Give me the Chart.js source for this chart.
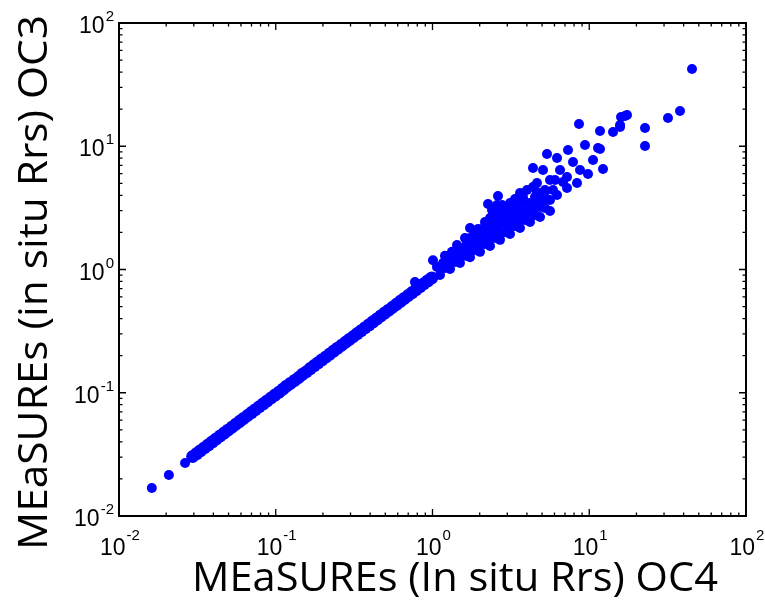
<!DOCTYPE html>
<html>
<head>
<meta charset="utf-8">
<script src="https://cdn.jsdelivr.net/npm/chart.js@4.4.1/dist/chart.umd.min.js"></script>
<style>
  html, body { margin: 0; padding: 0; background: #fff; }
</style>
</head>
<body>
<canvas id="myChart" width="765" height="602"></canvas>
<script>
// OC4 (x) vs OC3 (y), the tight band below 1
const bandX = [0.0295, 0.0313, 0.0331, 0.0351, 0.0372, 0.0394, 0.0417, 0.0442, 0.0468, 0.0495,
  0.0525, 0.0556, 0.0589, 0.0624, 0.0661, 0.0700, 0.0741, 0.0785, 0.0832, 0.0881,
  0.0933, 0.0989, 0.105, 0.111, 0.117, 0.124, 0.132, 0.140, 0.148, 0.157,
  0.166, 0.176, 0.186, 0.197, 0.209, 0.221, 0.234, 0.248, 0.263, 0.279,
  0.295, 0.313, 0.331, 0.351, 0.372, 0.394, 0.417, 0.442, 0.468, 0.495,
  0.525, 0.556, 0.589, 0.624, 0.661, 0.700, 0.741, 0.785, 0.832, 0.881,
  0.933, 0.989]
const bandY = [0.0304, 0.0321, 0.0339, 0.0358, 0.0378, 0.0400, 0.0422, 0.0446, 0.0471, 0.0497,
  0.0525, 0.0555, 0.0586, 0.0619, 0.0654, 0.0690, 0.0729, 0.0770, 0.0813, 0.0859,
  0.0907, 0.0958, 0.101, 0.107, 0.113, 0.119, 0.126, 0.133, 0.141, 0.148,
  0.157, 0.166, 0.175, 0.185, 0.195, 0.206, 0.218, 0.230, 0.243, 0.257,
  0.271, 0.286, 0.302, 0.319, 0.337, 0.356, 0.376, 0.397, 0.420, 0.443,
  0.468, 0.494, 0.522, 0.552, 0.583, 0.615, 0.650, 0.687, 0.725, 0.766,
  0.809, 0.854]

// the few isolated low values
const lowX = [0.0162, 0.0208, 0.0264]
const lowY = [0.0169, 0.0215, 0.0269]

// spread above 1
const highX = [0.773, 1.007, 1.068, 1.116, 1.116, 1.201, 1.293, 1.293, 1.331, 1.497, 1.497,
  1.433, 1.735, 1.735, 1.735, 1.735, 2.009, 2.009, 2.009, 2.162, 2.327,
  2.327, 2.327, 2.327, 2.261, 2.397, 2.696, 2.696, 2.696, 2.696, 2.617,
  2.776, 3.122, 3.122, 3.122, 3.122, 3.615, 3.615, 3.615, 3.615, 3.615,
  4.188, 4.188, 4.188, 4.377, 4.008, 4.377, 4.851, 4.851, 4.851, 5.070,
  4.642, 5.619, 5.619, 5.871, 5.619, 5.377, 6.228, 6.508, 7.214, 7.214,
  7.320, 7.877, 8.356, 8.730, 9.396, 9.818, 10.57, 11.37, 12.24, 8.604,
  11.71, 14.18, 15.72, 16.91, 17.41, 15.95, 15.72, 11.71, 22.69, 22.69,
  31.80, 37.93, 45.24,
  1.201, 1.201, 1.391, 1.391, 1.612, 1.612, 1.612, 1.867, 1.867, 1.867,
  2.162, 2.162, 2.162, 2.504, 2.504, 2.504, 2.504, 2.901, 2.901, 2.901,
  3.360, 3.360, 3.360, 3.360, 3.892, 3.892, 3.892, 4.507, 4.507, 4.507,
  5.221, 5.221, 5.221,
  1.167, 1.256, 1.391, 1.543, 1.660, 1.867, 1.951, 2.100, 2.227, 2.432,
  2.504, 2.579, 2.901, 2.988, 3.264, 3.461, 3.779, 3.892, 4.507, 4.642,
  5.070, 5.221, 6.046, 6.228, 6.801]
const highY = [0.792, 1.19, 1.05, 0.902, 1.05, 1.29, 1.01, 1.19, 1.39, 1.13, 1.34,
  1.58, 1.26, 1.49, 1.80, 2.17, 1.39, 1.64, 1.94, 2.43, 1.55,
  1.84, 2.17, 2.62, 3.40, 3.04, 1.74, 2.05, 2.43, 2.87, 3.95,
  3.34, 1.94, 2.30, 2.77, 3.46, 2.17, 2.57, 3.04, 3.66, 4.18,
  2.43, 2.93, 3.46, 4.67, 4.42, 6.66, 2.67, 3.22, 3.88, 6.42,
  5.03, 2.98, 3.66, 4.42, 5.32, 8.65, 8.03, 6.42, 5.63, 4.58,
  9.32, 7.45, 5.03, 6.42, 10.23, 5.95, 7.73, 9.68, 6.54, 15.16,
  13.30, 13.05, 14.87, 17.60, 17.93, 17.28, 14.33, 9.50, 14.07, 10.05,
  16.96, 19.32, 42.36,
  1.03, 1.15, 1.15, 1.36, 1.29, 1.52, 1.80, 1.44, 1.70, 2.01,
  1.61, 1.91, 2.25, 1.80, 2.13, 2.52, 2.98, 2.01, 2.38, 2.82,
  2.25, 2.67, 3.16, 3.73, 2.52, 2.98, 3.53, 2.77, 3.27, 3.88,
  3.16, 3.73, 4.42,
  1.13, 1.108, 1.26, 1.44, 1.64, 1.84, 2.13, 1.74, 2.05, 2.34,
  2.77, 3.34, 3.16, 2.57, 3.04, 3.46, 3.88, 2.77, 3.34, 4.25,
  3.66, 4.25, 5.32, 4.02, 5.13]

const decades = [0.01, 0.1, 1, 10, 100]
const exponents = ['-2', '-1', '0', '1', '2']
const xTitle = 'MEaSUREs (In situ Rrs) OC4'
const yTitle = 'MEaSUREs (in situ Rrs) OC3'

const toPoints = (xs, ys) => xs.map((v, i) => ({ x: v, y: ys[i] }))

// matlab style box: inward ticks on all sides, 10^n labels, big titles
const matlabFrame = {
  id: 'matlabFrame',
  afterDraw(chart) {
    const ctx = chart.ctx
    const a = chart.chartArea
    const xs = chart.scales.x
    const ys = chart.scales.y
    ctx.save()
    ctx.strokeStyle = '#000'
    ctx.lineWidth = 2
    ctx.strokeRect(a.left, a.top, a.right - a.left, a.bottom - a.top)

    ctx.lineWidth = 1.3
    ctx.beginPath()
    decades.forEach((d) => {
      for (let m = 1; m <= 9; m++) {
        const v = d * m
        if (v > 100.0001) break
        const len = m === 1 ? 7 : 3.5
        const px = xs.getPixelForValue(v)
        ctx.moveTo(px, a.bottom); ctx.lineTo(px, a.bottom - len)
        ctx.moveTo(px, a.top); ctx.lineTo(px, a.top + len)
        const py = ys.getPixelForValue(v)
        ctx.moveTo(a.left, py); ctx.lineTo(a.left + len, py)
        ctx.moveTo(a.right, py); ctx.lineTo(a.right - len, py)
      }
    })
    ctx.stroke()

    ctx.fillStyle = '#000'
    ctx.textBaseline = 'alphabetic'
    ctx.textAlign = 'left'
    const base = '23px "Liberation Sans"'
    const sup = '15px "Liberation Sans"'
    decades.forEach((d, i) => {
      ctx.font = base
      const wb = ctx.measureText('10').width
      ctx.font = sup
      const we = ctx.measureText(exponents[i]).width
      // x axis
      const px = xs.getPixelForValue(d)
      const left = px + 1 - (wb + we + 1) / 2
      ctx.font = base
      ctx.fillText('10', left, a.bottom + 39)
      ctx.font = sup
      ctx.fillText(exponents[i], left + wb + 1, a.bottom + 24)
      // y axis
      const py = ys.getPixelForValue(d)
      const right = a.left - 5
      ctx.fillText(exponents[i], right - we, py - 2)
      ctx.font = base
      ctx.fillText('10', right - we - 1 - wb, py + 10)
    })

    const fitText = (text, x0, y0, width, size) => {
      ctx.font = size + 'px "Open Sans"'
      const w = ctx.measureText(text).width
      ctx.save()
      ctx.translate(x0, y0)
      ctx.scale(width / w, 1)
      ctx.fillText(text, 0, 0)
      ctx.restore()
    }
    fitText(xTitle, 192, 591, 526, 40)
    ctx.save()
    ctx.translate(47, 550)
    ctx.rotate(-Math.PI / 2)
    fitText(yTitle, 0, 0, 535, 40)
    ctx.restore()
    ctx.restore()
  }
}

const blue = 'rgb(0, 0, 255)'
const config = {
  type: 'scatter',
  data: {
    datasets: [{
      label: 'band',
      data: toPoints(bandX, bandY),
      pointRadius: 6.5,
      pointHoverRadius: 6.5,
      pointBorderWidth: 0,
      backgroundColor: blue,
      borderColor: blue
    }, {
      label: 'scatter',
      data: toPoints(lowX, lowY).concat(toPoints(highX, highY)),
      pointRadius: 5,
      pointHoverRadius: 5,
      pointBorderWidth: 0,
      backgroundColor: blue,
      borderColor: blue
    }]
  },
  options: {
    responsive: false,
    animation: false,
    devicePixelRatio: 1,
    layout: { padding: { left: 119, top: 23, right: 19, bottom: 86 } },
    plugins: { legend: { display: false }, tooltip: { enabled: false } },
    scales: {
      x: { type: 'logarithmic', min: 0.01, max: 100, display: false },
      y: { type: 'logarithmic', min: 0.01, max: 100, display: false }
    }
  },
  plugins: [matlabFrame]
}

const ctx = document.getElementById('myChart')
new Chart(ctx, config)
</script>
</body>
</html>
